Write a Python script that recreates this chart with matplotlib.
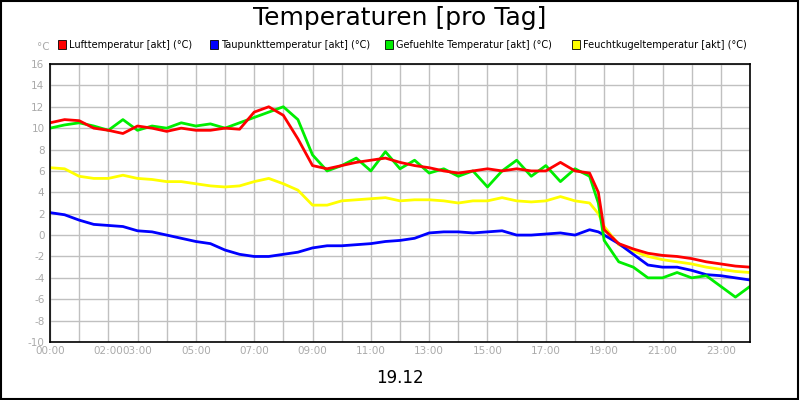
import matplotlib
matplotlib.use("Agg")
import matplotlib.pyplot as plt
from matplotlib.patches import Rectangle

hours = [0,0.5,1,1.5,2,2.5,3,3.5,4,4.5,5,5.5,6,6.5,7,7.5,8,8.5,9,9.5,10,10.5,11,11.5,12,12.5,13,13.5,14,14.5,15,15.5,16,16.5,17,17.5,18,18.5,18.8,19,19.5,20,20.5,21,21.5,22,22.5,23,23.5,24]
luft = [10.5,10.8,10.7,10.0,9.8,9.5,10.2,10.0,9.7,10.0,9.8,9.8,10.0,9.9,11.5,12.0,11.2,9.0,6.5,6.2,6.5,6.8,7.0,7.2,6.8,6.5,6.3,6.0,5.8,6.0,6.2,6.0,6.2,6.0,6.0,6.8,6.0,5.8,4.0,0.5,-0.8,-1.3,-1.7,-1.9,-2.0,-2.2,-2.5,-2.7,-2.9,-3.0]
taupunkt = [2.1,1.9,1.4,1.0,0.9,0.8,0.4,0.3,0.0,-0.3,-0.6,-0.8,-1.4,-1.8,-2.0,-2.0,-1.8,-1.6,-1.2,-1.0,-1.0,-0.9,-0.8,-0.6,-0.5,-0.3,0.2,0.3,0.3,0.2,0.3,0.4,0.0,0.0,0.1,0.2,0.0,0.5,0.3,0.0,-0.8,-1.8,-2.8,-3.0,-3.0,-3.3,-3.7,-3.8,-4.0,-4.2]
gefuehlt = [10.0,10.3,10.5,10.2,9.8,10.8,9.8,10.2,10.0,10.5,10.2,10.4,10.0,10.5,11.0,11.5,12.0,10.8,7.5,6.0,6.5,7.2,6.0,7.8,6.2,7.0,5.8,6.2,5.5,6.0,4.5,6.0,7.0,5.5,6.5,5.0,6.2,5.5,3.0,-0.5,-2.5,-3.0,-4.0,-4.0,-3.5,-4.0,-3.8,-4.8,-5.8,-4.8]
feucht = [6.3,6.2,5.5,5.3,5.3,5.6,5.3,5.2,5.0,5.0,4.8,4.6,4.5,4.6,5.0,5.3,4.8,4.2,2.8,2.8,3.2,3.3,3.4,3.5,3.2,3.3,3.3,3.2,3.0,3.2,3.2,3.5,3.2,3.1,3.2,3.6,3.2,3.0,2.0,0.8,-0.9,-1.5,-2.0,-2.3,-2.5,-2.7,-3.0,-3.2,-3.4,-3.5]
names = ["Lufttemperatur [akt] (°C)", "Taupunkttemperatur [akt] (°C)", "Gefuehlte Temperatur [akt] (°C)", "Feuchtkugeltemperatur [akt] (°C)"]
colors = ["#ff0000", "#0000ff", "#00ee00", "#ffff00"]
tick_hours = [0,2,3,5,7,9,11,13,15,17,19,21,23]
tick_labels = ["00:00","02:00","03:00","05:00","07:00","09:00","11:00","13:00","15:00","17:00","19:00","21:00","23:00"]
yticks = list(range(-10, 17, 2))

fig = plt.figure(figsize=(8, 4), dpi=100)
fig.patches.append(Rectangle((0.001, 0.002), 0.997, 0.996, transform=fig.transFigure, fill=False, edgecolor="black", lw=1.5))
ax = fig.add_axes([50/800, 58/400, 700/800, 278/400])
series = [luft, taupunkt, gefuehlt, feucht]
for i in [3, 1, 2, 0]:
    ax.plot(hours, series[i], color=colors[i], lw=2)
ax.set_xlim(0, 24)
ax.set_ylim(-10, 16)
ax.set_xticks(range(0, 25))
ax.set_xticklabels([""] * 25)
for h, l in zip(tick_hours, tick_labels):
    ax.text(h, -10.4, l, ha="center", va="top", fontsize=7.5, color="#aaaaaa")
ax.set_yticks(yticks)
ax.set_yticklabels([str(v) for v in yticks], fontsize=7.5, color="#aaaaaa")
ax.tick_params(length=0, pad=4)
ax.grid(True, color="#c0c0c0", lw=1)
ax.set_axisbelow(True)
for s in ax.spines.values():
    s.set_linewidth(1.2)
fig.text(0.5, 0.955, "Temperaturen [pro Tag]", ha="center", va="center", fontsize=18)
fig.text(0.5, 0.055, "19.12", ha="center", va="center", fontsize=12)
fig.text(37/800, 1-47/400, "°C", ha="left", va="center", fontsize=7.5, color="#aaaaaa")
xs = [58, 210, 385, 572]
for x, n, c in zip(xs, names, colors):
    fig.patches.append(Rectangle((x/800, 1-49/400), 8/800, 9/400, transform=fig.transFigure, facecolor=c, edgecolor="black", lw=0.6))
    fig.text((x+11)/800, 1-44.5/400, n, ha="left", va="center", fontsize=7)
fig.savefig("out.png", dpi=100)
